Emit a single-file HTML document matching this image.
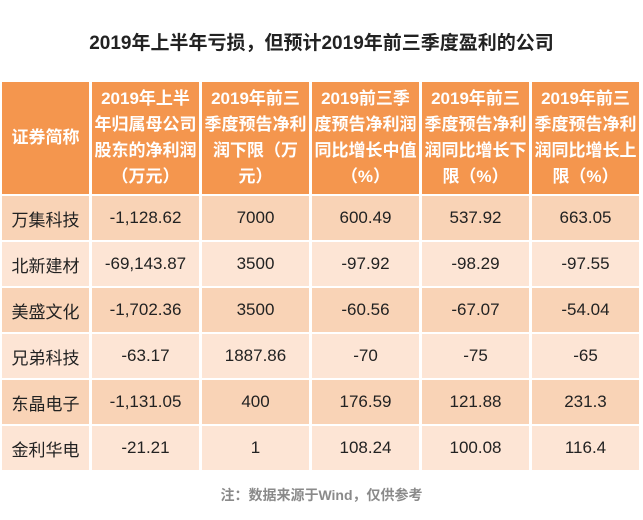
<!DOCTYPE html>
<html><head><meta charset="utf-8"><style>
body{margin:0;width:643px;height:520px;background:#fff;overflow:hidden;font-family:"Liberation Sans","Noto Sans CJK SC",sans-serif;position:relative}
#title{position:absolute;left:0;top:28px;width:643px;text-align:center;font-size:19px;font-weight:bold;color:#222}
#grid{position:absolute;left:2px;top:82px;display:grid;grid-template-columns:87px 107px 107px 107px 107px 107px;grid-template-rows:112px repeat(6,44px);gap:2px 3px}
.c{display:flex;align-items:center;justify-content:center;text-align:center;font-size:17px;color:#222}
.h{background:#f4964e;color:#fff;font-weight:bold;font-size:17px;line-height:26px;padding:0 2px}
.o{background:#f9d3b6}.e{background:#fde5d5}
#note{position:absolute;left:0;top:485px;width:643px;text-align:center;font-size:14px;font-weight:bold;color:#8a8a8a}
</style></head><body>
<div id="title">2019年上半年亏损，但预计2019年前三季度盈利的公司</div>
<div id="grid">
<div class="c h">证券简称</div>
<div class="c h">2019年上半年归属母公司股东的净利润（万元）</div>
<div class="c h">2019年前三季度预告净利润下限（万元）</div>
<div class="c h">2019前三季度预告净利润同比增长中值（%）</div>
<div class="c h">2019年前三季度预告净利润同比增长下限（%）</div>
<div class="c h">2019年前三季度预告净利润同比增长上限（%）</div>
</div>
<div id="note">注：数据来源于Wind，仅供参考</div>
<script>
const names=["万集科技","北新建材","美盛文化","兄弟科技","东晶电子","金利华电"];
const h1Profit=["-1,128.62","-69,143.87","-1,702.36","-63.17","-1,131.05","-21.21"];
const q3Lower=["7000","3500","3500","1887.86","400","1"];
const yoyMid=["600.49","-97.92","-60.56","-70","176.59","108.24"];
const yoyLow=["537.92","-98.29","-67.07","-75","121.88","100.08"];
const yoyHigh=["663.05","-97.55","-54.04","-65","231.3","116.4"];
const g=document.getElementById('grid');
names.forEach((n,i)=>{
 [n,h1Profit[i],q3Lower[i],yoyMid[i],yoyLow[i],yoyHigh[i]].forEach((v,j)=>{
  const d=document.createElement('div');
  d.className='c '+(i%2?'e':'o');
  d.textContent=v;
  
  
  g.appendChild(d);
 });
});
</script>
</body></html>
